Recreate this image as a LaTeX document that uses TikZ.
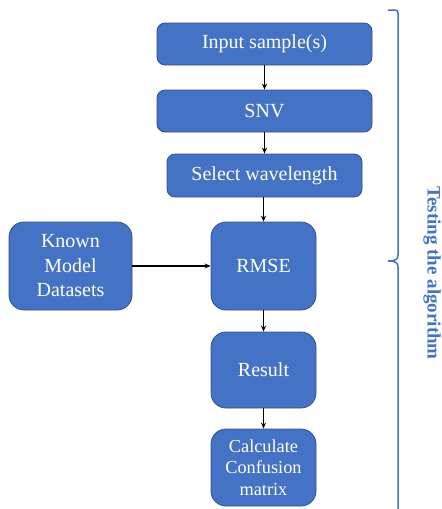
\documentclass[tikz,border=0pt]{standalone}
\usepackage{fontspec}
\setmainfont{Liberation Serif}
\usetikzlibrary{arrows.meta}
\definecolor{boxfill}{HTML}{4472C4}
\definecolor{boxline}{HTML}{2F528F}
\begin{document}
\begin{tikzpicture}[x=1pt,y=-1pt,
  box/.style={draw=boxline, line width=0.8pt, fill=boxfill, text=white, align=center,
    inner sep=0pt, font=\fontsize{20}{24.5}\selectfont},
  wide/.style={box, rounded corners=8pt},
  tall/.style={box, rounded corners=15pt},
  conn/.style={-{Stealth[length=6pt,width=5pt]}, line width=1.2pt, black}]
\useasboundingbox (0,0) rectangle (442,509);
\node[wide, minimum width=215pt, minimum height=42pt] (in) at (264.5,44) {Input sample(s)};
\node[wide, minimum width=215pt, minimum height=42pt] (snv) at (264.5,111) {SNV};
\node[wide, minimum width=195pt, minimum height=43pt] (sel) at (264.5,175.5) {Select wavelength};
\node[tall, minimum width=123pt, minimum height=88pt] (known) at (70.5,266) {Known\\Model\\Datasets};
\node[tall, minimum width=105pt, minimum height=88pt] (rmse) at (263.5,266) {RMSE};
\node[tall, minimum width=105pt, minimum height=76pt] (res) at (263.5,370) {Result};
\node[tall, minimum width=105pt, minimum height=77pt, font=\fontsize{18.3}{21.5}\selectfont] (calc) at (263.5,467.5) {Calculate\\Confusion\\matrix};
\draw[conn] (in) -- (snv);
\draw[conn] (snv) -- (sel);
\draw[conn] (sel.south -| rmse.north) -- (rmse);
\draw[conn] (known) -- (rmse);
\draw[conn] (rmse) -- (res);
\draw[conn] (res) -- (calc);
\coordinate (bt) at (388,10);
\coordinate (bm) at (388,261);
\coordinate (bb) at (398,509);
\draw[boxfill, line width=1.5pt] (bt) -- (395,10) .. controls (397,10) and (398,11) .. (398,13)
  -- (398,255) .. controls (398,259) and (396,261) .. (bm)
  .. controls (396,261) and (398,263) .. (398,267) -- (bb);
\node[rotate=-90, text=boxfill, font=\bfseries\fontsize{19}{22}\selectfont] (lbl) at (432,273) {Testing the algorithm};
\end{tikzpicture}
\end{document}
